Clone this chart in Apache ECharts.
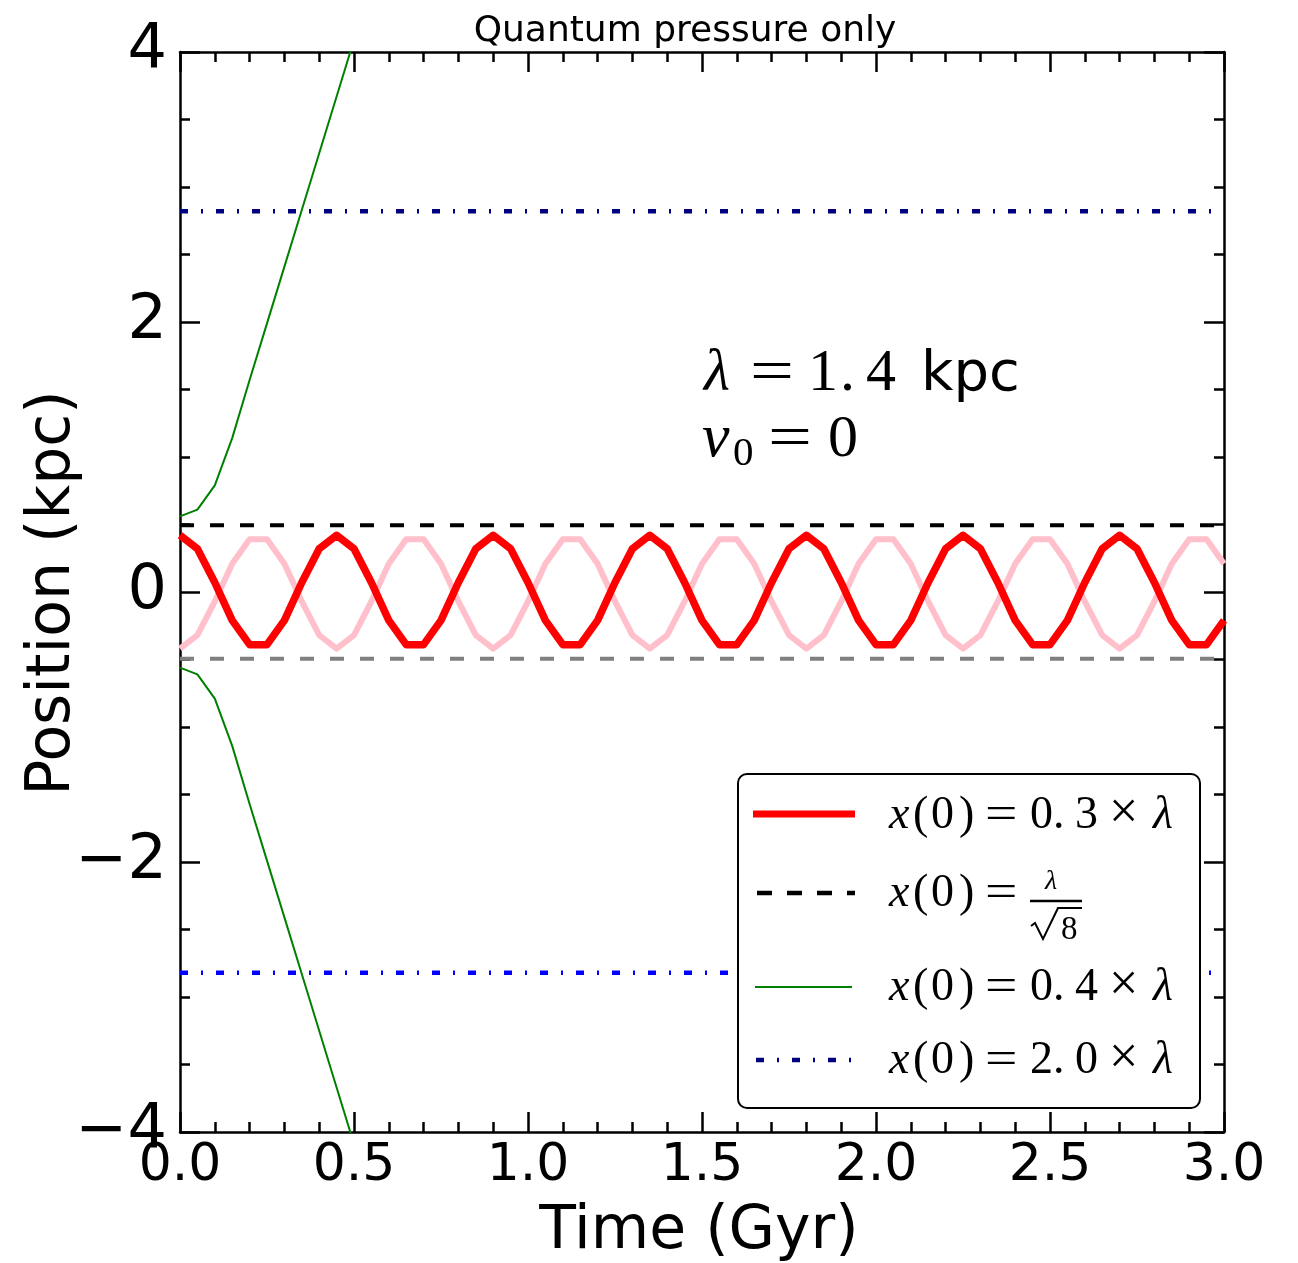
<!DOCTYPE html>
<html>
<head>
<meta charset="utf-8">
<script src="https://cdn.jsdelivr.net/npm/echarts@6/dist/echarts.min.js"></script>
<style>
  html, body { margin: 0; padding: 0; background: #fff; }
  #chart { width: 1298px; height: 1263px; }
</style>
</head>
<body>
<div id="chart"></div>
<script>
// Time samples (Gyr) of the oscillating orbits
const timeGyr = [
  0, 0.05, 0.1, 0.15, 0.2, 0.25, 0.3, 0.35, 0.4, 0.45,
  0.5, 0.55, 0.6, 0.65, 0.7, 0.75, 0.8, 0.85, 0.9, 0.95,
  1.0, 1.05, 1.1, 1.15, 1.2, 1.25, 1.3, 1.35, 1.4, 1.45,
  1.5, 1.55, 1.6, 1.65, 1.7, 1.75, 1.8, 1.85, 1.9, 1.95,
  2.0, 2.05, 2.1, 2.15, 2.2, 2.25, 2.3, 2.35, 2.4, 2.45,
  2.5, 2.55, 2.6, 2.65, 2.7, 2.75, 2.8, 2.85, 2.9, 2.95,
  3.0
];
// x(0) = 0.3 lambda, started on the positive side (kpc)
const posRed = [
  0.42, 0.32, 0.07, -0.21, -0.39, -0.39, -0.21, 0.07, 0.32,
  0.42, 0.32, 0.07, -0.21, -0.39, -0.39, -0.21, 0.07, 0.32,
  0.42, 0.32, 0.07, -0.21, -0.39, -0.39, -0.21, 0.07, 0.32,
  0.42, 0.32, 0.07, -0.21, -0.39, -0.39, -0.21, 0.07, 0.32,
  0.42, 0.32, 0.07, -0.21, -0.39, -0.39, -0.21, 0.07, 0.32,
  0.42, 0.32, 0.07, -0.21, -0.39, -0.39, -0.21, 0.07, 0.32,
  0.42, 0.32, 0.07, -0.21, -0.39, -0.39, -0.21
];
// x(0) = -0.3 lambda, the mirrored orbit (kpc)
const posPink = [
  -0.42, -0.32, -0.07, 0.21, 0.39, 0.39, 0.21, -0.07, -0.32,
  -0.42, -0.32, -0.07, 0.21, 0.39, 0.39, 0.21, -0.07, -0.32,
  -0.42, -0.32, -0.07, 0.21, 0.39, 0.39, 0.21, -0.07, -0.32,
  -0.42, -0.32, -0.07, 0.21, 0.39, 0.39, 0.21, -0.07, -0.32,
  -0.42, -0.32, -0.07, 0.21, 0.39, 0.39, 0.21, -0.07, -0.32,
  -0.42, -0.32, -0.07, 0.21, 0.39, 0.39, 0.21, -0.07, -0.32,
  -0.42, -0.32, -0.07, 0.21, 0.39, 0.39, 0.21
];
// x(0) = 0.4 lambda: escaping orbits
const timeEscape = [0, 0.05, 0.1, 0.15, 0.2, 0.25, 0.3, 0.35, 0.4, 0.45, 0.5];
const posGreenUp = [0.56, 0.61, 0.79, 1.14, 1.57, 1.99, 2.41, 2.83, 3.25, 3.67, 4.09];
const posGreenDown = [-0.56, -0.61, -0.79, -1.14, -1.57, -1.99, -2.41, -2.83, -3.25, -3.67, -4.09];
// Static positions: x(0) = lambda/sqrt(8) and x(0) = 2.0 lambda
const timeSpan = [0, 3];
const posCritUp = [0.495, 0.495];
const posCritDown = [-0.495, -0.495];
const posFarUp = [2.82, 2.82];
const posFarDown = [-2.82, -2.82];
// Tick labels
const xTickValues = [0, 0.5, 1, 1.5, 2, 2.5, 3];
const xTickLabels = ['0.0', '0.5', '1.0', '1.5', '2.0', '2.5', '3.0'];
const yTickValues = [-4, -2, 0, 2, 4];
const yTickLabels = ['\u22124', '\u22122', '0', '2', '4'];

const pairs = (xs, ys) => xs.map((x, i) => [x, ys[i]]);

const SERIF = '"Liberation Serif", "DejaVu Serif", serif';
const SANS = '"DejaVu Sans", sans-serif';

// one piece of typeset text, positioned by its baseline
function mt(str, x, base, size, opt) {
  opt = opt || {};
  return {
    type: 'text', x: x, y: base - 0.3 * size, scaleX: opt.sx || 1, z: 110,
    style: {
      text: str, fill: '#000',
      fontSize: size, fontFamily: opt.sans ? SANS : SERIF,
      fontStyle: opt.italic ? 'italic' : 'normal',
      align: 'left', verticalAlign: 'middle',
      textAlign: 'left', textVerticalAlign: 'middle'
    }
  };
}
function seg(x1, y1, x2, y2, color, width, dash) {
  return {
    type: 'line', z: 110,
    shape: { x1: x1, y1: y1, x2: x2, y2: y2 },
    style: { stroke: color, lineWidth: width, lineDash: dash || null, lineCap: 'butt' }
  };
}

const axisCommon = {
  type: 'value',
  axisLine: { show: true, onZero: false, lineStyle: { color: '#000', width: 2.5 } },
  axisTick: { show: true, inside: true, length: 20, lineStyle: { color: '#000', width: 2.5 } },
  minorTick: { show: true, length: 10, lineStyle: { color: '#000', width: 2.5 } },
  splitLine: { show: false },
  minorSplitLine: { show: false }
};

const xBase = Object.assign({}, axisCommon, { min: 0, max: 3, interval: 0.5 });
xBase.minorTick = Object.assign({}, axisCommon.minorTick, { splitNumber: 5 });
const yBase = Object.assign({}, axisCommon, { min: -4, max: 4, interval: 2 });
yBase.minorTick = Object.assign({}, axisCommon.minorTick, { splitNumber: 4 });

const legendBaselines = [830, 908, 1002, 1075];
const legendGraphics = [
  {
    type: 'rect', z: 105,
    shape: { x: 738, y: 774, width: 462, height: 334, r: 9 },
    style: { fill: '#fff', stroke: '#000', lineWidth: 2 }
  },
  seg(753, 814, 855, 814, '#ff0000', 7),
  seg(757, 893, 855, 893, '#000000', 4.5, [15, 15]),
  seg(755, 987, 852, 987, '#008000', 2),
  seg(756, 1060, 855, 1060, '#000080', 4.5, [8, 13, 2, 13])
];
legendBaselines.forEach(function (b) {
  legendGraphics.push(
    mt('x', 889, b, 46, { italic: true }),
    mt('(', 913, b, 46),
    mt('0', 931, b, 46),
    mt(')', 959, b, 46),
    mt('=', 985, b, 46, { sx: 1.25 })
  );
});
[['0', '3', 830], ['0', '4', 1002], ['2', '0', 1075]].forEach(function (d) {
  legendGraphics.push(
    mt(d[0] + '.', 1030, d[2], 46),
    mt(d[1], 1075, d[2], 46),
    mt('\u00d7', 1109, d[2], 52),
    mt('\u03bb', 1153, d[2], 46, { italic: true })
  );
});
legendGraphics.push(
  mt('\u03bb', 1045, 890, 28, { italic: true }),
  seg(1030, 901, 1082, 901, '#000', 2.5),
  {
    type: 'polyline', z: 110,
    shape: { points: [[1031, 926], [1035, 923], [1043, 939], [1058, 908], [1082, 908]] },
    style: { stroke: '#000', lineWidth: 2, fill: null }
  },
  mt('8', 1061, 940, 33)
);

const chart = echarts.init(document.getElementById('chart'), null, { renderer: 'canvas' });
chart.setOption({
  backgroundColor: '#fff',
  animation: false,
  grid: { left: 180, top: 52, width: 1044, height: 1080, containLabel: false, outerBoundsMode: 'none' },
  xAxis: [
    Object.assign({}, xBase, {
      position: 'bottom',
      axisLabel: {
        show: true, margin: 8, color: '#000', fontSize: 52, fontFamily: SANS,
        formatter: function (v) { const i = xTickValues.indexOf(v); return i < 0 ? '' : xTickLabels[i]; }
      }
    }),
    Object.assign({}, xBase, { position: 'top', axisLabel: { show: false } })
  ],
  yAxis: [
    Object.assign({}, yBase, {
      position: 'left',
      axisLabel: {
        show: true, margin: 13, color: '#000', fontSize: 62, fontFamily: SANS,
        formatter: function (v) { const i = yTickValues.indexOf(v); return i < 0 ? '' : yTickLabels[i]; }
      }
    }),
    Object.assign({}, yBase, { position: 'right', axisLabel: { show: false } })
  ],
  series: [
    {
      name: 'far up', type: 'line', z: 2, showSymbol: false, symbol: 'none',
      data: pairs(timeSpan, posFarUp),
      lineStyle: { color: '#000080', width: 4.5, type: [8, 13, 2, 13], cap: 'butt' }
    },
    {
      name: 'far down', type: 'line', z: 2, showSymbol: false, symbol: 'none',
      data: pairs(timeSpan, posFarDown),
      lineStyle: { color: '#0000ff', width: 4.5, type: [8, 13, 2, 13], cap: 'butt' }
    },
    {
      name: 'critical up', type: 'line', z: 3, showSymbol: false, symbol: 'none',
      data: pairs(timeSpan, posCritUp),
      lineStyle: { color: '#000000', width: 4, type: [14, 16], cap: 'butt' }
    },
    {
      name: 'critical down', type: 'line', z: 3, showSymbol: false, symbol: 'none',
      data: pairs(timeSpan, posCritDown),
      lineStyle: { color: '#808080', width: 4, type: [14, 16], cap: 'butt' }
    },
    {
      name: 'mirror', type: 'line', z: 4, showSymbol: false, symbol: 'none',
      data: pairs(timeGyr, posPink),
      lineStyle: { color: '#ffc0cb', width: 6, join: 'round' }
    },
    {
      name: 'x0 = 0.3 lambda', type: 'line', z: 5, showSymbol: false, symbol: 'none',
      data: pairs(timeGyr, posRed),
      lineStyle: { color: '#ff0000', width: 7.5, join: 'round' }
    },
    {
      name: 'escape up', type: 'line', z: 6, showSymbol: false, symbol: 'none',
      data: pairs(timeEscape, posGreenUp),
      lineStyle: { color: '#008000', width: 2 }
    },
    {
      name: 'escape down', type: 'line', z: 6, showSymbol: false, symbol: 'none',
      data: pairs(timeEscape, posGreenDown),
      lineStyle: { color: '#008000', width: 2 }
    }
  ],
  graphic: [
    {
      type: 'text', x: 685, y: 32, z: 110,
      style: { text: 'Quantum pressure only', fill: '#000', fontSize: 36, fontFamily: SANS,
               align: 'center', verticalAlign: 'middle', textAlign: 'center', textVerticalAlign: 'middle' }
    },
    {
      type: 'text', x: 699, y: 1232, z: 110,
      style: { text: 'Time (Gyr)', fill: '#000', fontSize: 60, fontFamily: SANS,
               align: 'center', verticalAlign: 'middle', textAlign: 'center', textVerticalAlign: 'middle' }
    },
    {
      type: 'text', x: 53, y: 593, rotation: Math.PI / 2, z: 110,
      style: { text: 'Position (kpc)', fill: '#000', fontSize: 60, fontFamily: SANS,
               align: 'center', verticalAlign: 'middle', textAlign: 'center', textVerticalAlign: 'middle' }
    },
    mt('\u03bb', 704, 392, 60, { italic: true }),
    mt('=', 750, 392, 60, { sx: 1.3 }),
    mt('1', 808, 392, 60),
    mt('.', 840, 392, 60),
    mt('4', 866, 392, 60),
    mt('kpc', 921, 392, 56, { sans: true }),
    mt('v', 702, 458, 62, { italic: true }),
    mt('0', 733, 467, 41),
    mt('=', 768, 458, 60, { sx: 1.3 }),
    mt('0', 828, 458, 60)
  ].concat(legendGraphics)
});
</script>
</body>
</html>
